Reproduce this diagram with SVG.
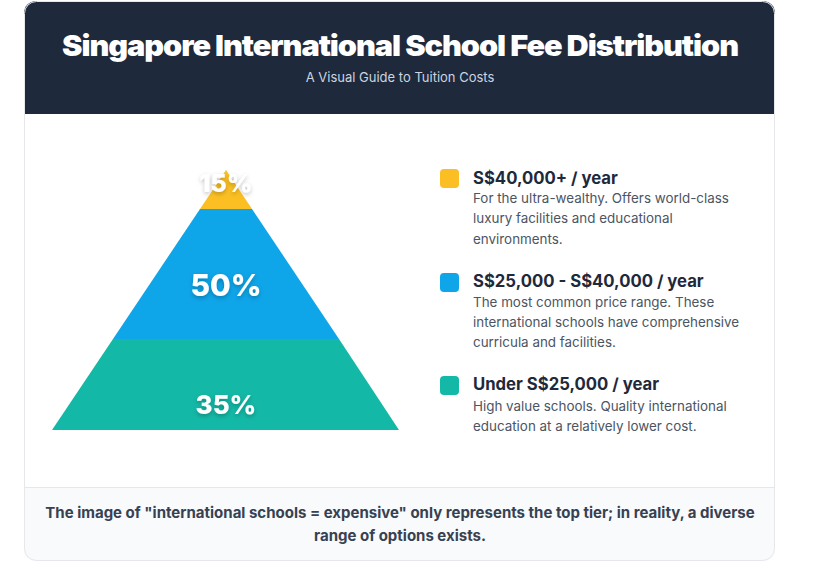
<svg xmlns="http://www.w3.org/2000/svg" width="821" height="575" viewBox="0 0 821 575">
<style>
.title{font-family:Inter,"Liberation Sans",sans-serif;font-weight:900;font-size:29px;fill:#ffffff;letter-spacing:-1px}
.sub{font-family:Inter,"Liberation Sans",sans-serif;font-size:13px;fill:#cbd5e1}
.pct{font-family:Inter,"Liberation Sans",sans-serif;font-weight:800;fill:#ffffff;text-anchor:middle}
.lt{font-family:Inter,"Liberation Sans",sans-serif;font-weight:700;font-size:16.7px;fill:#1e293b}
.ld{font-family:Inter,"Liberation Sans",sans-serif;font-size:13.4px;fill:#4b5563}
.foot{font-family:Inter,"Liberation Sans",sans-serif;font-weight:700;font-size:15px;fill:#374151;text-anchor:middle}
</style>
<defs>
<filter id="sh" x="-20%" y="-20%" width="140%" height="160%">
<feDropShadow dx="0" dy="2" stdDeviation="2" flood-color="#000" flood-opacity="0.25"/>
</filter>
<clipPath id="card"><rect x="24" y="1" width="751" height="560" rx="12"/></clipPath>
</defs>
<rect width="821" height="575" fill="#ffffff"/>
<g id="card-bg" clip-path="url(#card)">
<rect x="24" y="1" width="751" height="560" fill="#ffffff"/>
<rect x="24" y="1" width="751" height="113" fill="#1e293b"/>
<rect x="24" y="487" width="751" height="74" fill="#f8fafc"/>
<line x1="24" y1="487.5" x2="775" y2="487.5" stroke="#e5e7eb" stroke-width="1"/>
</g>
<rect x="24.5" y="1.5" width="750" height="559" rx="12" fill="none" stroke="#e5e7eb" stroke-width="1"/>
<g id="header">
<text class="title" x="400" y="56" text-anchor="middle" textLength="676" lengthAdjust="spacingAndGlyphs">Singapore International School Fee Distribution</text>
<text class="sub" x="400" y="82" text-anchor="middle">A Visual Guide to Tuition Costs</text>
</g>
<g id="pyramid">
<g id="tier-top">
<polygon points="226,170 252,209 200,209" fill="#fbbf24"/>
</g>
<g id="tier-mid">
<polygon points="200,209 252,209 339,339 113,339" fill="#0ea5e9"/>
</g>
<g id="tier-bottom">
<polygon points="113,339 339,339 399,430 52,430" fill="#14b8a6"/>
</g>
<text class="pct" x="226" y="192" font-size="25" filter="url(#sh)">15%</text>
<text class="pct" x="226" y="296" font-size="30" filter="url(#sh)">50%</text>
<text class="pct" x="226" y="414" font-size="26" filter="url(#sh)">35%</text>
</g>
<g id="legend-top">
<rect x="440" y="169" width="19" height="19" rx="4" fill="#fbbf24"/>
<text class="lt" x="473" y="184">S$40,000+ / year</text>
<text class="ld" x="473" y="203">For the ultra-wealthy. Offers world-class</text>
<text class="ld" x="473" y="223">luxury facilities and educational</text>
<text class="ld" x="473" y="244">environments.</text>
</g>
<g id="legend-mid">
<rect x="440" y="273" width="19" height="19" rx="4" fill="#0ea5e9"/>
<text class="lt" x="473" y="287">S$25,000 - S$40,000 / year</text>
<text class="ld" x="473" y="307">The most common price range. These</text>
<text class="ld" x="473" y="327">international schools have comprehensive</text>
<text class="ld" x="473" y="347">curricula and facilities.</text>
</g>
<g id="legend-bottom">
<rect x="440" y="376" width="19" height="19" rx="4" fill="#14b8a6"/>
<text class="lt" x="473" y="390">Under S$25,000 / year</text>
<text class="ld" x="473" y="411">High value schools. Quality international</text>
<text class="ld" x="473" y="431">education at a relatively lower cost.</text>
</g>
<g id="footer">
<text class="foot" x="400" y="518">The image of "international schools = expensive" only represents the top tier; in reality, a diverse</text>
<text class="foot" x="400" y="541">range of options exists.</text>
</g>
</svg>
